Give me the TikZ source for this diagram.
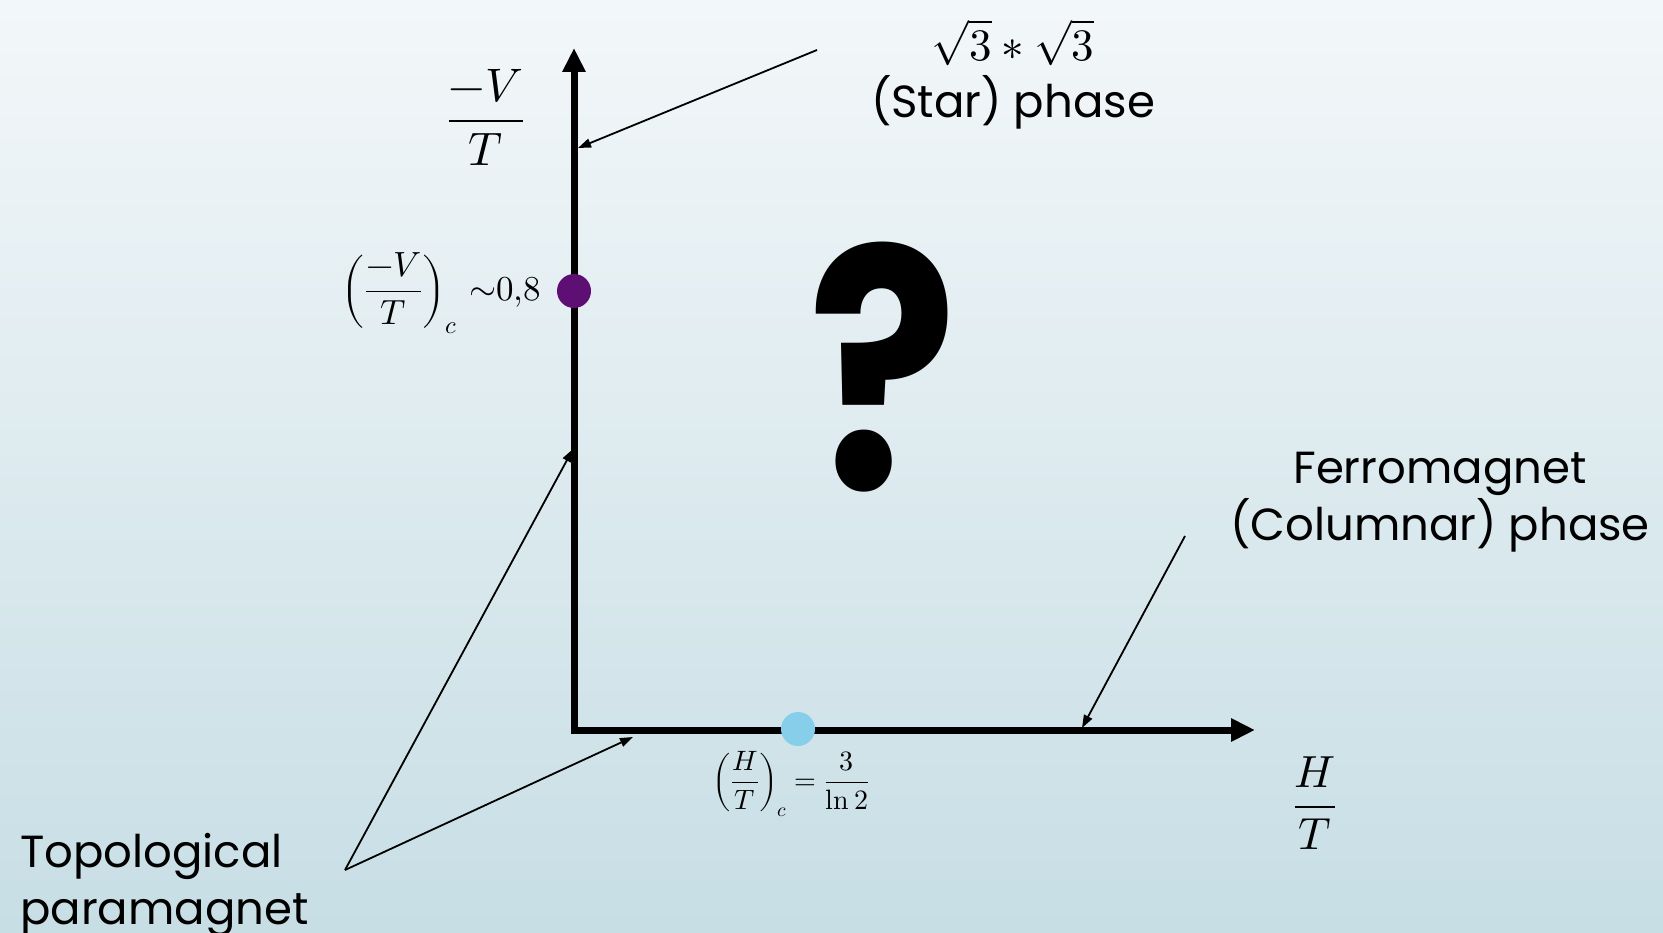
\documentclass[tikz,border=0pt]{standalone}
\usepackage{fontspec}
\usepackage{unicode-math}
\setmainfont{Poppins}
\setmathfont{Latin Modern Math}
\usetikzlibrary{arrows.meta}
\definecolor{bgtop}{RGB}{243,247,249}
\definecolor{bgbot}{RGB}{199,222,229}
\definecolor{dotpurple}{RGB}{94,15,115}
\definecolor{dotblue}{RGB}{135,206,235}
\begin{document}
\begin{tikzpicture}[x=1pt,y=-1pt,
  axisline/.style={line width=7pt, line join=miter},
  pointer/.style={line width=1.8pt, -{Triangle[length=13pt,width=9pt]}},
  lbl/.style={font=\fontsize{45}{57}\selectfont, align=center, inner sep=0pt},
  mlbl/.style={inner sep=0pt},
  dot/.style={circle, inner sep=0pt, minimum size=34pt}]
\shade[top color=bgtop, bottom color=bgbot] (0,0) rectangle (1663,933);
\useasboundingbox (0,0) rectangle (1663,933);

% axes
\coordinate (O) at (574,730);
\coordinate (ytip) at (574,48);
\coordinate (xtip) at (1255,730);
\draw[axisline, {Triangle[length=24pt,width=22pt]}-{Triangle[length=24pt,width=22pt]}] (ytip) -- (O) -- (xtip);

% critical points
\node[dot, fill=dotpurple] (vcdot) at (574,291) {};
\node[dot, fill=dotblue] (hcdot) at (798,729) {};

% axis labels
\node[mlbl, font=\fontsize{47}{50}\selectfont] (vlab) at (486,117) {$\displaystyle\frac{-V}{T}$};
\node[mlbl, font=\fontsize{45}{50}\selectfont] (hlab) at (1315,803) {$\displaystyle\frac{H}{T}$};
\node[mlbl, font=\fontsize{35}{40}\selectfont, anchor=east] (vclab) at (541,293) {$\displaystyle\left(\frac{-V}{T}\right)_{c}\,{\sim}0{,}8$};
\node[mlbl, font=\fontsize{28}{32}\selectfont] (hclab) at (791,784) {$\displaystyle\left(\frac{H}{T}\right)_{c}=\frac{3}{\symup{ln}\,2}$};

% question mark
\node[inner sep=0pt, xscale=0.83, font=\fontsize{334}{334}\selectfont\bfseries] (q) at (883,367) {?};

% phase labels
\node[lbl] (star) at (1013,74) {$\sqrt{3}*\sqrt{3}$\\(Star) phase};
\node[lbl] (ferro) at (1440,502) {Ferromagnet\\(Columnar) phase};
\node[lbl, align=left, anchor=north west] (topo) at (20,833) {Topological\\paramagnet};

% pointers
\coordinate (starfrom) at (817,50);
\coordinate (starto) at (578,148);
\coordinate (ferrofrom) at (1185,536);
\coordinate (ferroto) at (1082,728);
\coordinate (topofrom) at (345,870);
\coordinate (topotoA) at (573,449);
\coordinate (topotoB) at (633,737);
\draw[pointer] (starfrom) -- (starto);
\draw[pointer] (ferrofrom) -- (ferroto);
\draw[pointer] (topofrom) -- (topotoA);
\draw[pointer] (topofrom) -- (topotoB);
\end{tikzpicture}
\end{document}
